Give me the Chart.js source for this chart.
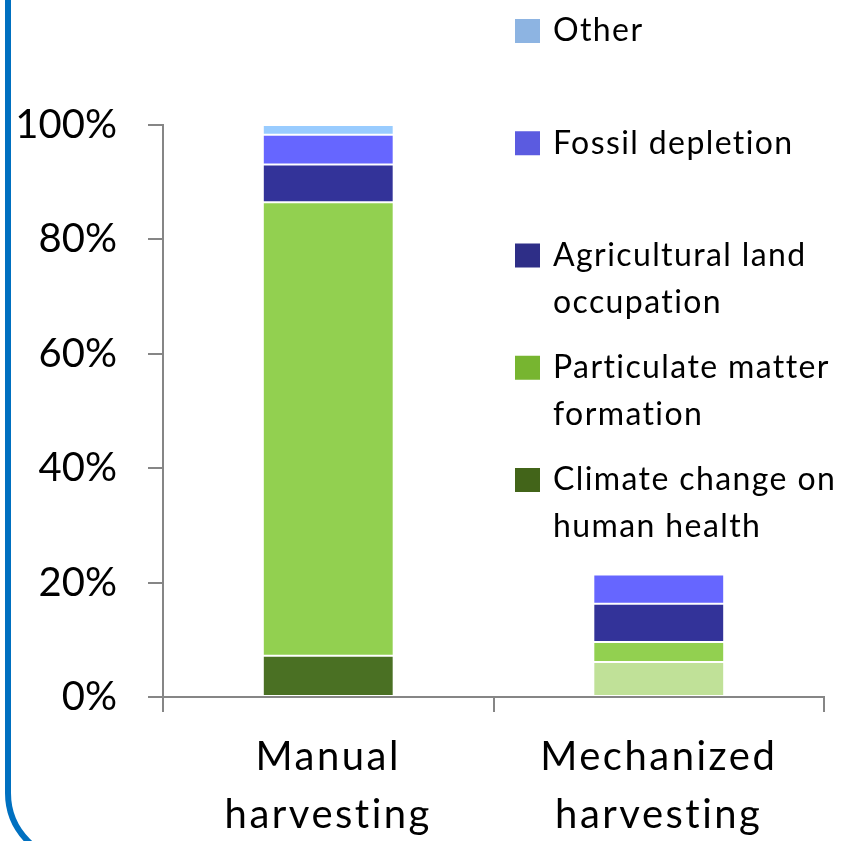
<!DOCTYPE html>
<html>
<head>
<meta charset="utf-8">
<script src="https://cdn.jsdelivr.net/npm/chart.js@4/dist/chart.umd.min.js"></script>
<style>
  html, body { margin: 0; padding: 0; background: #fff; overflow: hidden; }
  #wrap { position: relative; width: 855px; height: 841px; overflow: hidden; }
  #frame {
    position: absolute; left: 5px; top: -87px; width: 1000px; height: 951px;
    border: 6px solid #0070C0; border-radius: 71px; box-sizing: border-box;
  }
  canvas { position: absolute; left: 0; top: 0; }
</style>
</head>
<body>
<div id="wrap">
  <div id="frame"></div>
  <canvas id="c" width="855" height="841"></canvas>
</div>
<script>
// Share of total damage per impact category (%)
const categories = [['Manual', 'harvesting'], ['Mechanized', 'harvesting']];
const climateChange     = [7.2, 6.1];
const particulateMatter = [79.3, 3.5];
const agriculturalLand  = [6.6, 6.7];
const fossilDepletion   = [5.2, 5.1];
const otherImpacts      = [1.7, 0];
const yTickValues = [0, 20, 40, 60, 80, 100];

// Series names as they are broken onto lines in the legend
const seriesNames = {
  climate: ['Climate change on', 'human health'],
  particulate: ['Particulate matter', 'formation'],
  agricultural: ['Agricultural land', 'occupation'],
  fossil: ['Fossil depletion'],
  other: ['Other']
};

const FONT = 'Lato';
const AXIS_GREY = '#868686';

// Legend drawn down the right side, one evenly spaced slot per series
const sideLegend = {
  id: 'sideLegend',
  afterDraw(chart, args, opts) {
    const ctx = chart.ctx;
    ctx.save();
    ctx.font = `${opts.size}px ${FONT}`;
    ctx.letterSpacing = opts.spacing + 'px';
    ctx.textBaseline = 'middle';
    ctx.textAlign = 'left';
    const items = chart.data.datasets.slice().reverse();
    items.forEach((ds, i) => {
      const cy = opts.top + i * opts.slot;
      ctx.fillStyle = ds.legendColor;
      ctx.fillRect(opts.x, cy - 12, 25, 24);
      ctx.fillStyle = '#000';
      ds.legendLines.forEach((line, j) => {
        ctx.fillText(line, opts.x + 38, cy + j * opts.lineHeight);
      });
    });
    ctx.restore();
  }
};

// Slightly tracked-out category labels
const spacedCategoryLabels = {
  id: 'spacedCategoryLabels',
  beforeDraw(chart) {
    const sx = chart.scales.x;
    if (sx && !sx._spaced) {
      const orig = sx.drawLabels;
      sx.drawLabels = function (area) {
        this.ctx.save();
        this.ctx.letterSpacing = '2.5px';
        orig.call(this, area);
        this.ctx.restore();
      };
      sx._spaced = true;
    }
  }
};

function build() {
  const edge = 'rgba(255,255,255,0.2)';
  new Chart(document.getElementById('c'), {
    type: 'bar',
    data: {
      labels: categories,
      datasets: [
        { label: seriesNames.climate.join(' '), legendLines: seriesNames.climate,
          data: climateChange, backgroundColor: ['#4A7023', '#C0E198'], legendColor: '#426419' },
        { label: seriesNames.particulate.join(' '), legendLines: seriesNames.particulate,
          data: particulateMatter, backgroundColor: '#92D050', legendColor: '#77B530' },
        { label: seriesNames.agricultural.join(' '), legendLines: seriesNames.agricultural,
          data: agriculturalLand, backgroundColor: '#333399', legendColor: '#2E2E87' },
        { label: seriesNames.fossil.join(' '), legendLines: seriesNames.fossil,
          data: fossilDepletion, backgroundColor: '#6666FF', legendColor: '#5B5BE0' },
        { label: seriesNames.other.join(' '), legendLines: seriesNames.other,
          data: otherImpacts, backgroundColor: '#99CCFF', legendColor: '#8DB4E2' }
      ].map(d => Object.assign(d, {
        borderColor: edge, borderWidth: 1, borderSkipped: false,
        categoryPercentage: 1.0, barPercentage: 0.396
      }))
    },
    options: {
      responsive: false,
      devicePixelRatio: 1,
      animation: false,
      layout: { padding: { top: 125, right: 31, bottom: 0, left: 0 } },
      plugins: {
        legend: { display: false },
        tooltip: { enabled: false },
        sideLegend: { x: 515, top: 31, slot: 112.25, lineHeight: 47, size: 32, spacing: 1.4 }
      },
      scales: {
        x: {
          stacked: true,
          grid: { display: true, drawOnChartArea: false, drawTicks: true, tickLength: 15,
                  color: AXIS_GREY, lineWidth: 2, offset: true },
          border: { display: true, color: AXIS_GREY, width: 2 },
          ticks: { color: '#000', padding: 16, maxRotation: 0,
                   font: { family: FONT, size: 40, lineHeight: 1.45 } },
          afterFit(scale) { scale.height = 144; }
        },
        y: {
          stacked: true,
          min: 0, max: 100,
          afterBuildTicks(scale) { scale.ticks = yTickValues.map(v => ({ value: v })); },
          grid: { display: true, drawOnChartArea: false, drawTicks: true, tickLength: 15,
                  color: AXIS_GREY, lineWidth: 2 },
          border: { display: true, color: AXIS_GREY, width: 2 },
          ticks: { color: '#000', padding: 31, callback: v => v + '%',
                   font: { family: FONT, size: 40 } },
          afterFit(scale) { scale.width = 163; }
        }
      }
    },
    plugins: [sideLegend, spacedCategoryLabels]
  });
}

if (document.fonts && document.fonts.load) {
  Promise.all([document.fonts.load(`40px ${FONT}`), document.fonts.load(`32px ${FONT}`)])
    .then(build, build);
} else {
  build();
}
</script>
</body>
</html>
